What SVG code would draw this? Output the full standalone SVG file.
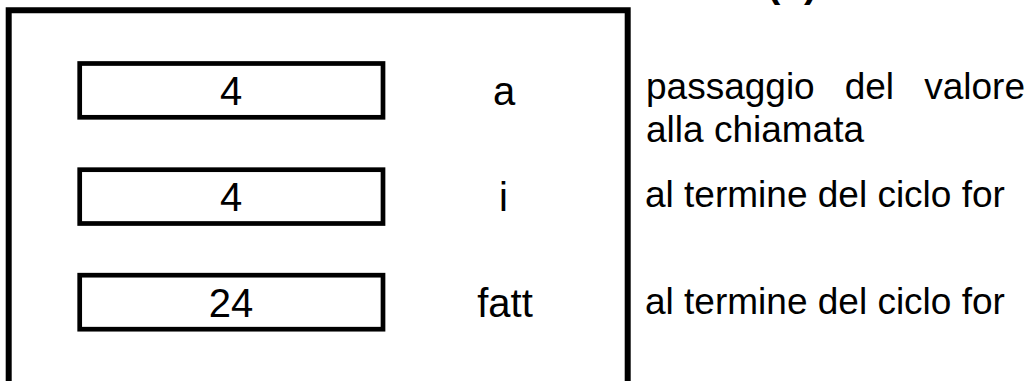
<svg xmlns="http://www.w3.org/2000/svg" width="1034" height="381" viewBox="0 0 1034 381">
<style>
.frame{fill:none;stroke:#000;stroke-width:6}
.box{fill:#fff;stroke:#000;stroke-width:4.7}
.t{font-family:"Liberation Sans",Arial,sans-serif;font-size:37px;fill:#000}
.l{font-family:"Liberation Sans",Arial,sans-serif;font-size:40px;fill:#000;text-anchor:middle}
.title{font-family:"Liberation Sans",Arial,sans-serif;font-size:40px;font-weight:bold;fill:#000}
</style>
<rect width="1034" height="381" fill="#fff"/>
<g id="title"><text class="title" x="767 804" y="-3.5">()</text></g>
<g id="frame"><path class="frame" d="M8.7,400 V10.3 H627.7 V400"/></g>
<g id="node-a">
<rect class="box" x="79.7" y="63.5" width="303.3" height="53.8"/>
<text class="l" x="231" y="104.5">4</text>
<text class="l" x="504" y="105">a</text>
</g>
<g id="node-i">
<rect class="box" x="79.7" y="169.7" width="303.3" height="53.8"/>
<text class="l" x="231" y="210.7">4</text>
<text class="l" x="503.5" y="210.7">i</text>
</g>
<g id="node-fatt">
<rect class="box" x="79.7" y="275.2" width="303.3" height="54"/>
<text class="l" x="231" y="316.5">24</text>
<text class="l" x="505" y="316.7">fatt</text>
</g>
<g id="notes">
<text class="t" y="99"><tspan x="646">passaggio</tspan><tspan x="844.7">del</tspan><tspan x="1025" text-anchor="end">valore</tspan></text>
<text class="t" x="646" y="141.5">alla chiamata</text>
<text class="t" x="645" y="206.7">al termine del ciclo for</text>
<text class="t" x="645" y="314">al termine del ciclo for</text>
</g>
<g id="connectors"></g>
</svg>
